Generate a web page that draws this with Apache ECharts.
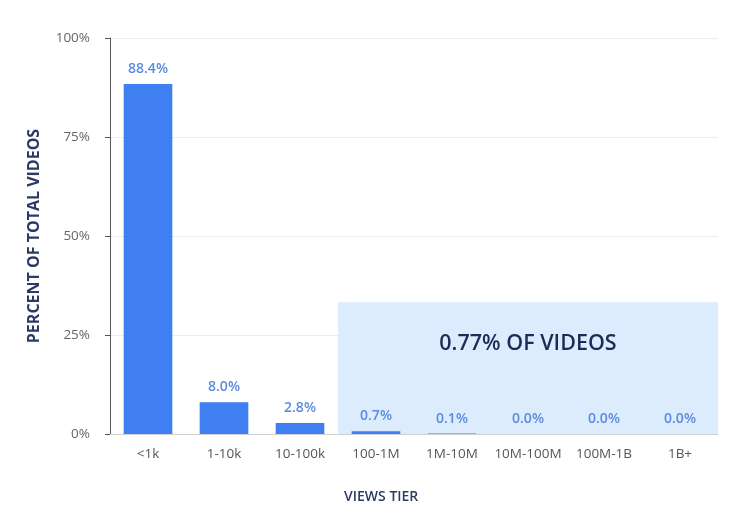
<!DOCTYPE html>
<html>
<head>
<meta charset="utf-8">
<script src="https://cdn.jsdelivr.net/npm/echarts@6/dist/echarts.min.js"></script>
<style>
  html, body { margin: 0; padding: 0; background: #fff; }
  #main { width: 737px; height: 505px; }
</style>
</head>
<body>
<div id="main"></div>
<script>
const tiers = ["<1k", "1-10k", "10-100k", "100-1M", "1M-10M", "10M-100M", "100M-1B", "1B+"];
const percents = [88.4, 8.0, 2.8, 0.7, 0.1, 0.0, 0.0, 0.0];
const yTicks = [0, 25, 50, 75, 100];
// highlighted block: tiers 100-1M .. 1B+ (band index 3 to 8), up to a third of the axis
const highlightFrom = 3;
const highlightTo = 8;
const highlightTop = 33.3;
const highlightText = "0.77% OF VIDEOS";

const chart = echarts.init(document.getElementById("main"));

const option = {
  backgroundColor: "#ffffff",
  animation: false,
  textStyle: { fontFamily: "Open Sans" },
  title: {
    text: "VIEWS TIER",
    left: 339,
    top: 485,
    textStyle: {
      fontSize: 14,
      fontWeight: 600,
      color: "#2b3a66",
      fontFamily: "Open Sans",
    },
  },
  grid: { left: 110, right: 19, top: 38, bottom: 71 },
  xAxis: [
    {
      type: "category",
      data: tiers,
      axisTick: { show: false },
      axisLine: { lineStyle: { color: "#cfcfcf" } },
      axisLabel: { color: "#555", fontSize: 13.5, margin: 13, interval: 0 },
    },
    {
      type: "value",
      min: 0,
      max: tiers.length,
      show: false,
    },
  ],
  yAxis: {
    type: "value",
    min: 0,
    max: 100,
    interval: 25,
    name: "PERCENT OF TOTAL VIDEOS",
    nameLocation: "middle",
    nameGap: 68,
    nameTextStyle: {
      fontSize: 16,
      fontWeight: 700,
      color: "#2b3a66",
      fontFamily: "Open Sans",
    },
    axisLabel: {
      color: "#666",
      fontSize: 13.5,
      margin: 20,
      formatter: (v) => (yTicks.includes(v) ? v + "%" : ""),
    },
    splitLine: { lineStyle: { color: "#ececec" } },
  },
  series: [
    {
      type: "line",
      xAxisIndex: 1,
      data: [],
      silent: true,
      markArea: {
        silent: true,
        itemStyle: { color: "#dcecfc" },
        label: {
          show: true,
          position: "insideTop",
          distance: 31,
          formatter: highlightText,
          fontSize: 21.5,
          fontWeight: 600,
          color: "#1c2b57",
          fontFamily: "Open Sans",
        },
        data: [[
          { xAxis: highlightFrom, yAxis: 0 },
          { xAxis: highlightTo, yAxis: highlightTop },
        ]],
      },
      z: 0,
    },
    {
      type: "bar",
      data: percents,
      barWidth: "64%",
      itemStyle: { color: "#3f7ff1" },
      label: {
        show: true,
        position: "top",
        distance: 8,
        color: "#5b8be0",
        fontSize: 14,
        fontWeight: 600,
        formatter: (p) => p.value.toFixed(1) + "%",
      },
      z: 2,
    },
  ],
};

chart.setOption(option);
</script>
</body>
</html>
